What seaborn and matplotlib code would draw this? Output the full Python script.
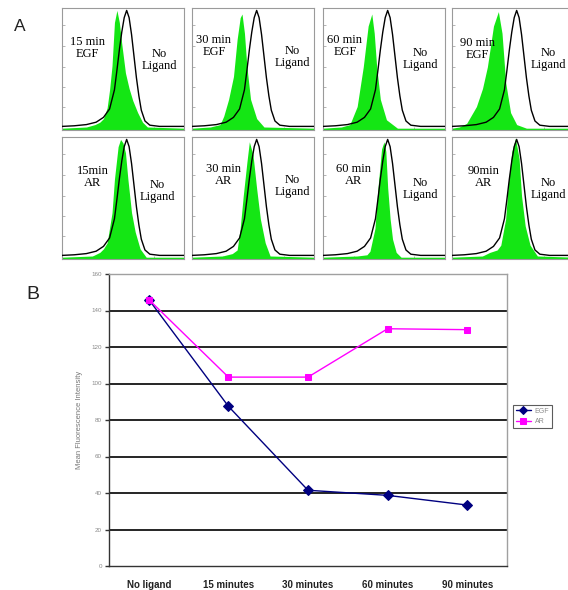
import matplotlib
matplotlib.use("Agg")
import matplotlib.pyplot as plt
import seaborn as sns
import pandas as pd
import numpy as np

sns.set_theme(style="white")
plt.rcParams['font.family'] = ['Liberation Sans', 'DejaVu Sans']

# ---------------- data: panel B ----------------
categories = ["No ligand", "15 minutes", "30 minutes", "60 minutes", "90 minutes"]
egf = [146, 87.5, 41.5, 38.7, 33.4]
ar = [146, 103.5, 103.5, 130, 129.5]
y_ticks = [0, 20, 40, 60, 80, 100, 120, 140, 160]

# ---------------- data: panel A histograms (channel fraction, relative count) ----------------
nolig_x = [0.00, 0.10, 0.20, 0.28, 0.34, 0.39, 0.43, 0.45, 0.47, 0.49, 0.51, 0.53, 0.55, 0.57, 0.59, 0.61, 0.63, 0.65, 0.68, 0.72, 0.80, 1.00]
nolig_h = [0.015, 0.02, 0.03, 0.05, 0.09, 0.16, 0.32, 0.48, 0.65, 0.80, 0.92, 0.98, 0.92, 0.78, 0.60, 0.42, 0.27, 0.15, 0.06, 0.025, 0.015, 0.015]

egf15_x = [0.00, 0.20, 0.27, 0.31, 0.34, 0.37, 0.39, 0.41, 0.43, 0.45, 0.47, 0.49, 0.52, 0.55, 0.58, 0.62, 0.66, 0.70, 1.00]
egf15_h = [0.00, 0.01, 0.03, 0.05, 0.08, 0.17, 0.32, 0.52, 0.88, 0.98, 0.88, 0.70, 0.46, 0.33, 0.23, 0.13, 0.05, 0.01, 0.00]
egf30_x = [0.00, 0.15, 0.23, 0.26, 0.30, 0.34, 0.37, 0.395, 0.41, 0.43, 0.45, 0.48, 0.53, 0.59, 1.00]
egf30_h = [0.00, 0.01, 0.03, 0.10, 0.24, 0.43, 0.74, 0.92, 0.95, 0.79, 0.51, 0.24, 0.08, 0.01, 0.00]
egf60_x = [0.00, 0.15, 0.22, 0.28, 0.33, 0.37, 0.40, 0.42, 0.44, 0.47, 0.52, 0.61, 1.00]
egf60_h = [0.00, 0.01, 0.03, 0.18, 0.51, 0.85, 0.95, 0.79, 0.51, 0.24, 0.07, 0.00, 0.00]
egf90_x = [0.00, 0.06, 0.12, 0.20, 0.25, 0.29, 0.34, 0.38, 0.41, 0.44, 0.48, 0.53, 0.61, 1.00]
egf90_h = [0.00, 0.01, 0.04, 0.18, 0.33, 0.51, 0.85, 0.97, 0.79, 0.38, 0.13, 0.03, 0.00, 0.00]

ar15_x = [0.00, 0.25, 0.31, 0.34, 0.37, 0.41, 0.43, 0.46, 0.48, 0.50, 0.52, 0.54, 0.57, 0.60, 0.64, 0.69, 1.00]
ar15_h = [0.00, 0.01, 0.04, 0.07, 0.12, 0.37, 0.65, 0.92, 0.98, 0.95, 0.87, 0.65, 0.37, 0.21, 0.07, 0.00, 0.00]
ar30_x = [0.00, 0.25, 0.33, 0.37, 0.395, 0.42, 0.45, 0.47, 0.50, 0.53, 0.56, 0.60, 0.64, 1.00]
ar30_h = [0.00, 0.01, 0.03, 0.06, 0.24, 0.51, 0.79, 0.96, 0.85, 0.57, 0.32, 0.12, 0.01, 0.00]
ar60_x = [0.00, 0.28, 0.36, 0.385, 0.426, 0.45, 0.48, 0.50, 0.515, 0.53, 0.55, 0.57, 0.60, 0.64, 1.00]
ar60_h = [0.00, 0.01, 0.02, 0.05, 0.24, 0.57, 0.90, 0.96, 0.88, 0.58, 0.32, 0.15, 0.04, 0.00, 0.00]
ar90_x = [0.00, 0.25, 0.31, 0.37, 0.40, 0.44, 0.46, 0.49, 0.52, 0.55, 0.57, 0.60, 0.64, 0.70, 1.00]
ar90_h = [0.00, 0.01, 0.04, 0.06, 0.10, 0.32, 0.60, 0.88, 0.99, 0.82, 0.51, 0.26, 0.10, 0.01, 0.00]

panel_labels = ["15 min\nEGF", "30 min\nEGF", "60 min\nEGF", "90 min\nEGF",
                "15min\nAR", "30 min\nAR", "60 min\nAR", "90min\nAR"]
control_label = "No\nLigand"
green_curves = [(egf15_x, egf15_h), (egf30_x, egf30_h), (egf60_x, egf60_h), (egf90_x, egf90_h),
                (ar15_x, ar15_h), (ar30_x, ar30_h), (ar60_x, ar60_h), (ar90_x, ar90_h)]

# ---------------- figure ----------------
W, H = 568, 590
fig = plt.figure(figsize=(W / 100, H / 100), dpi=100)

def fr(x0, y0, w, h):
    return [x0 / W, 1 - (y0 + h) / H, w / W, h / H]

col_left = [62, 192, 323, 452]
row_top = [8, 137]
pw, ph = 122, 122
lab_pos = [(0.21, 0.675), (0.18, 0.685), (0.18, 0.685), (0.21, 0.665),
           (0.25, 0.675), (0.26, 0.685), (0.25, 0.685), (0.26, 0.675)]
ctl_pos = [(0.80, 0.575), (0.82, 0.595), (0.80, 0.585), (0.79, 0.58),
           (0.78, 0.56), (0.82, 0.595), (0.80, 0.575), (0.79, 0.575)]

green = "#14e614"
for i in range(8):
    r, c = divmod(i, 4)
    ax = fig.add_axes(fr(col_left[c], row_top[r], pw, ph))
    gx, gh = green_curves[i]
    ax.fill_between(gx, gh, -0.02, color=green, lw=0, zorder=1)
    sns.lineplot(x=nolig_x, y=nolig_h, ax=ax, color="black", lw=1.0, sort=False,
                 estimator=None, zorder=3)
    ax.set_xlim(0, 1)
    ax.set_ylim(-0.015, 1.0)
    ax.set_xlabel("")
    ax.set_ylabel("")
    for s in ax.spines.values():
        s.set_color("#9a9a9a")
        s.set_linewidth(0.8)
    ax.set_yticks([0.18, 0.34, 0.51, 0.68, 0.86])
    ax.set_xticks([0.25, 0.5, 0.75])
    ax.tick_params(direction="in", length=2, width=0.6, color="#aaaaaa",
                   labelleft=False, labelbottom=False, left=True, bottom=True)
    ax.text(lab_pos[i][0], lab_pos[i][1], panel_labels[i], transform=ax.transAxes,
            ha="center", va="center", fontsize=9, family="Liberation Serif",
            linespacing=1.0, color="black")
    ax.text(ctl_pos[i][0], ctl_pos[i][1], control_label, transform=ax.transAxes,
            ha="center", va="center", fontsize=9, family="Liberation Serif",
            linespacing=1.0, color="black")

fig.text(19.5 / W, 1 - 26.5 / H, "A", fontsize=12.5, ha="center", va="center",
         color="#222222", fontweight="light")
fig.text(32.5 / W, 1 - 294.5 / H, "B", fontsize=14, ha="center", va="center",
         color="#222222", fontweight="light")

# ---------------- panel B ----------------
axb = fig.add_axes(fr(109, 274, 398, 292))
df = pd.DataFrame({
    "time": categories * 2,
    "value": egf + ar,
    "series": ["EGF"] * len(categories) + ["AR"] * len(categories),
})
sns.lineplot(data=df[df.series == "EGF"], x="time", y="value", ax=axb, color="#000080",
             marker="D", markersize=5, markeredgecolor="#000080", lw=1.0, label="EGF", sort=False)
sns.lineplot(data=df[df.series == "AR"], x="time", y="value", ax=axb, color="#ff00ff",
             marker="s", markersize=5, markeredgecolor="#ff00ff", lw=1.0, label="AR", sort=False)
axb.set_xlim(-0.5, len(categories) - 0.5)
axb.set_ylim(y_ticks[0], y_ticks[-1])
for t in y_ticks[1:-1]:
    axb.axhline(t, color="black", lw=1.2, zorder=0.5)
axb.set_yticks(y_ticks)
axb.set_yticklabels([str(t) for t in y_ticks], fontsize=4.5, color="#8a8a8a")
axb.set_xticks(range(len(categories)))
axb.set_xticklabels(categories, fontsize=7, fontweight="bold", color="#222222")
axb.set_xticks(np.arange(-0.5, len(categories), 1.0), minor=True)
axb.tick_params(axis="x", which="major", length=0, pad=10)
axb.tick_params(axis="x", which="minor", length=3, width=1, color="#333333", direction="out")
axb.tick_params(axis="y", length=3, width=1, color="#333333", direction="out", pad=2, left=True)
axb.set_xlabel("")
axb.set_ylabel("Mean Fluorescence Intensity", fontsize=5.5, color="#777777", labelpad=6)
axb.spines["left"].set_color("#333333")
axb.spines["bottom"].set_color("#333333")
axb.spines["left"].set_linewidth(1.0)
axb.spines["bottom"].set_linewidth(1.0)
axb.spines["top"].set_color("#a0a0a0")
axb.spines["right"].set_color("#a0a0a0")
axb.spines["top"].set_linewidth(1.0)
axb.spines["right"].set_linewidth(1.0)
axb.legend_.remove()
handles, labels = axb.get_legend_handles_labels()
leg = fig.legend(handles, labels, loc="upper left", bbox_to_anchor=(513 / W, 1 - 405 / H),
                 fontsize=5, frameon=True, fancybox=False, edgecolor="#333333",
                 handlelength=2.2, borderpad=0.4, labelspacing=0.5, handletextpad=0.5,
                 borderaxespad=0, markerscale=0.75)
leg.get_frame().set_linewidth(0.8)
for t in leg.get_texts():
    t.set_color("#8a8a8a")

fig.savefig("out.png", dpi=100)
